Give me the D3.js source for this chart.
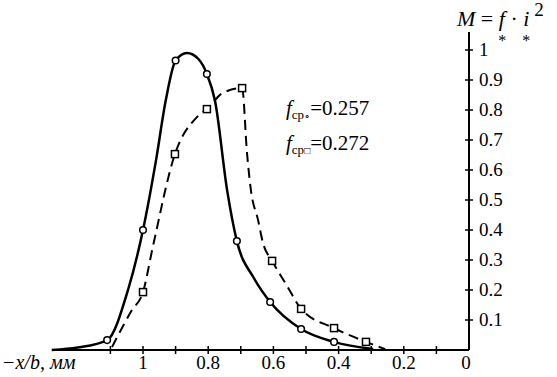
<!DOCTYPE html>
<html><head><meta charset="utf-8">
<script src="https://cdn.jsdelivr.net/npm/d3@7"></script>
<style>svg text, svg tspan { font-family: "Liberation Serif", "Times New Roman", serif !important; }</style>
</head><body style="margin:0;background:#fff"><svg id="c" width="557" height="377" style="display:block"></svg>
<script>
// solid curve (circles): [-x/b, M]
const solidX = [1.28, 1.2, 1.11, 1.046, 1.0, 0.96, 0.93, 0.9, 0.865, 0.83, 0.804, 0.779, 0.742, 0.712, 0.66, 0.61, 0.515, 0.414, 0.294];
const solidY = [0.0, 0.008, 0.033, 0.2, 0.4, 0.633, 0.833, 0.965, 0.99, 0.97, 0.92, 0.83, 0.533, 0.363, 0.24, 0.16, 0.07, 0.027, 0.003];
const solidMarkIdx = [2, 4, 7, 10, 13, 15, 16, 17];
// dashed curve (squares)
const dashX = [1.095, 1.034, 1.0, 0.97, 0.902, 0.834, 0.804, 0.755, 0.696, 0.681, 0.669, 0.647, 0.632, 0.604, 0.56, 0.515, 0.414, 0.316, 0.257];
const dashY = [0.01, 0.133, 0.193, 0.343, 0.653, 0.777, 0.803, 0.857, 0.873, 0.657, 0.533, 0.433, 0.357, 0.297, 0.217, 0.137, 0.073, 0.027, 0.003];
const dashMarkIdx = [2, 4, 6, 8, 13, 15, 16, 17];
const xTicks = [1.1, 1.0, 0.9, 0.8, 0.7, 0.6, 0.5, 0.4, 0.3, 0.2, 0.1];
const xTickLabels = [[1, "1"], [0.8, "0.8"], [0.6, "0.6"], [0.4, "0.4"], [0.2, "0.2"], [0, "0"]];
const yTicks = [0.1, 0.2, 0.3, 0.4, 0.5, 0.6, 0.7, 0.8, 0.9, 1];
const yTickLabels = ["0.1", "0.2", "0.3", "0.4", "0.5", "0.6", "0.7", "0.8", "0.9", "1"];

const FONT = "Liberation Serif";
const svg = d3.select("#c");
const txt = () => svg.append("text").style("font-family", FONT).attr("fill", "#000");
const x = d3.scaleLinear().domain([1, 0]).range([143, 469]);
const y = d3.scaleLinear().domain([0, 1]).range([350, 50]);

// axes
svg.append("line").attr("x1", 52).attr("x2", x(0)).attr("y1", y(0)).attr("y2", y(0)).attr("stroke", "#000").attr("stroke-width", 2);
svg.append("line").attr("x1", x(0)).attr("x2", x(0)).attr("y1", y(0)).attr("y2", 32).attr("stroke", "#000").attr("stroke-width", 2);
svg.selectAll(".xt").data(xTicks).enter().append("line")
  .attr("x1", d => x(d)).attr("x2", d => x(d)).attr("y1", y(0) - 4).attr("y2", y(0) + 4).attr("stroke", "#000").attr("stroke-width", 1.5);
svg.selectAll(".yt").data(yTicks).enter().append("line")
  .attr("x1", x(0) - 4).attr("x2", x(0) + 4).attr("y1", d => y(d)).attr("y2", d => y(d)).attr("stroke", "#000").attr("stroke-width", 1.5);
svg.selectAll(".xl").data(xTickLabels).enter().append("text").style("font-family", FONT)
  .attr("x", d => x(d[0]) - (d[0] === 0 ? 3 : 0)).attr("y", 369).attr("text-anchor", "middle").attr("font-size", 19).text(d => d[1]);
svg.selectAll(".yl").data(yTicks).enter().append("text").style("font-family", FONT)
  .attr("x", x(0) + 10).attr("y", d => y(d) + 6).attr("font-size", 19).text((d, i) => yTickLabels[i]);

// axis titles
txt().attr("x", 2).attr("y", 369).attr("font-size", 20).attr("font-style", "italic").text("−x/b, мм");
const t = txt().attr("x", 457).attr("y", 26).attr("font-size", 22);
t.append("tspan").attr("font-style", "italic").text("M");
t.append("tspan").text(" = ");
const tf = t.append("tspan").attr("font-style", "italic").text("f");
t.append("tspan").text(" · ");
const ti = t.append("tspan").attr("font-style", "italic").text("i");
t.append("tspan").attr("font-size", 19).attr("dx", 5).attr("dy", -10).text("2");
const fBox = tf.node().getBBox(), iBox = ti.node().getBBox();
txt().attr("x", fBox.x + fBox.width / 2 - 1).attr("y", 46).attr("text-anchor", "middle").attr("font-size", 16).text("*");
txt().attr("x", iBox.x + iBox.width / 2).attr("y", 46).attr("text-anchor", "middle").attr("font-size", 16).text("*");

// annotations
function ann(yy, sub, val) {
  const a = txt().attr("x", 286).attr("y", yy).attr("font-size", 21);
  a.append("tspan").attr("font-style", "italic").text("f");
  a.append("tspan").attr("font-size", 13).attr("dy", 4).text("ср");
  a.append("tspan").attr("font-size", 10).text(sub);
  a.append("tspan").attr("dy", -4).text("=" + val);
}
ann(115, "∘", "0.257");
ann(150, "□", "0.272");

// curves
const line = d3.line().x(d => x(d[0])).y(d => y(d[1])).curve(d3.curveMonotoneX);
const solid = solidX.map((v, i) => [v, solidY[i]]);
const dash = dashX.map((v, i) => [v, dashY[i]]);
svg.append("path").attr("d", line(dash)).attr("fill", "none").attr("stroke", "#000").attr("stroke-width", 2).attr("stroke-dasharray", "10,6");
svg.append("path").attr("d", line(solid)).attr("fill", "none").attr("stroke", "#000").attr("stroke-width", 2.5);

svg.selectAll(".cm").data(solidMarkIdx.map(i => solid[i])).enter().append("circle")
  .attr("cx", d => x(d[0])).attr("cy", d => y(d[1])).attr("r", 3.3).attr("fill", "#fff").attr("stroke", "#000").attr("stroke-width", 1.5);
svg.selectAll(".sm").data(dashMarkIdx.map(i => dash[i])).enter().append("rect")
  .attr("x", d => x(d[0]) - 3.5).attr("y", d => y(d[1]) - 3.5).attr("width", 7).attr("height", 7).attr("fill", "#fff").attr("stroke", "#000").attr("stroke-width", 1.5);
</script></body></html>
